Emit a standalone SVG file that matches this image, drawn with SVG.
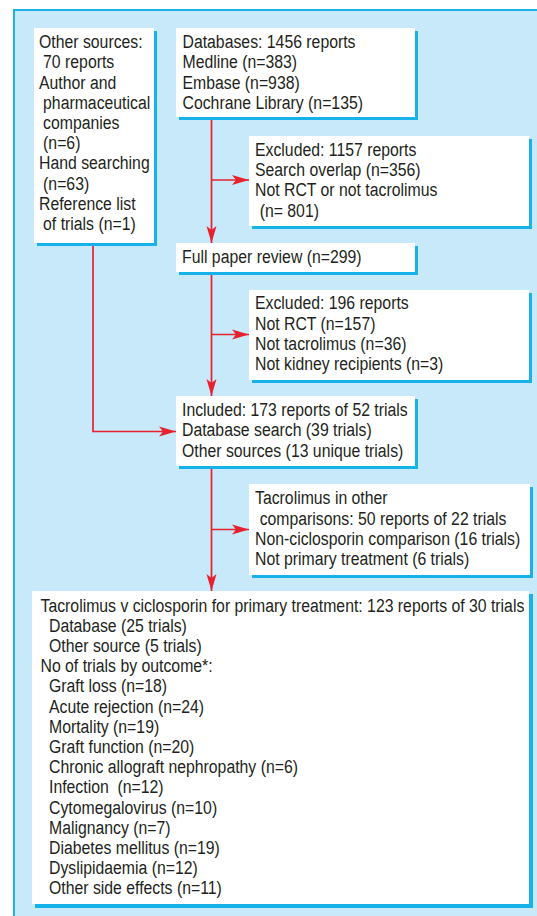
<svg xmlns="http://www.w3.org/2000/svg" width="537" height="916" viewBox="0 0 537 916">
<defs>
<style>
.bg{fill:#c7e9f9;stroke:#1eb1e9;stroke-width:2}
.sh{fill:#17b2ea}
.bx{fill:#ffffff}
text{font-family:"Liberation Sans",Arial,sans-serif;font-size:18.6px;fill:#231f20}
.ln{fill:none;stroke:#e8212e;stroke-width:1.7}
</style>
<marker id="ah" markerUnits="userSpaceOnUse" markerWidth="18" markerHeight="12" refX="17" refY="5.5" orient="auto">
<path d="M0,0.5 L17,5.5 L0,10.5 L4,5.5 Z" fill="#e8212e"/>
</marker>
</defs>
<rect x="0" y="0" width="537" height="916" fill="#ffffff"/>
<rect class="bg" x="14" y="10" width="540" height="920"/>

<g id="connectors">
<path class="ln" d="M211.5,117 V243" marker-end="url(#ah)"/>
<path class="ln" d="M211.5,180 H249" marker-end="url(#ah)"/>
<path class="ln" d="M211.5,272 V396" marker-end="url(#ah)"/>
<path class="ln" d="M211.5,334.5 H249" marker-end="url(#ah)"/>
<path class="ln" d="M93,243 V431.5 H176" marker-end="url(#ah)"/>
<path class="ln" d="M211.5,466 V591" marker-end="url(#ah)"/>
<path class="ln" d="M211.5,529.5 H249" marker-end="url(#ah)"/>
</g>

<g id="other-sources">
<rect class="sh" x="37" y="31" width="120" height="215"/>
<rect class="bx" x="34" y="28" width="120" height="215"/>
<g transform="translate(39,0) scale(0.85,1)">
<text x="0" y="48.3">Other sources:</text>
<text x="4.8" y="68.5">70 reports</text>
<text x="0" y="88.7">Author and</text>
<text x="4.8" y="108.9">pharmaceutical</text>
<text x="4.8" y="129.1">companies</text>
<text x="4.8" y="149.3">(n=6)</text>
<text x="0" y="169.5">Hand searching</text>
<text x="4.8" y="189.7">(n=63)</text>
<text x="0" y="209.9">Reference list</text>
<text x="4.8" y="230.1">of trials (n=1)</text>
</g>
</g>

<g id="databases">
<rect class="sh" x="179" y="31" width="239" height="89"/>
<rect class="bx" x="176" y="28" width="239" height="89"/>
<g transform="translate(182.5,0) scale(0.85,1)">
<text x="0" y="48.3">Databases: 1456 reports</text>
<text x="0" y="68.5">Medline (n=383)</text>
<text x="0" y="88.7">Embase (n=938)</text>
<text x="0" y="108.9">Cochrane Library (n=135)</text>
</g>
</g>

<g id="excluded-1157">
<rect class="sh" x="252" y="139" width="280" height="90"/>
<rect class="bx" x="249" y="136" width="280" height="90"/>
<g transform="translate(255,0) scale(0.85,1)">
<text x="0" y="156">Excluded: 1157 reports</text>
<text x="0" y="176.2">Search overlap (n=356)</text>
<text x="0" y="196.4">Not RCT or not tacrolimus</text>
<text x="5.5" y="216.6">(n= 801)</text>
</g>
</g>

<g id="full-paper">
<rect class="sh" x="179" y="246" width="239" height="29"/>
<rect class="bx" x="176" y="243" width="239" height="29"/>
<g transform="translate(182,0) scale(0.85,1)">
<text x="0" y="262.7">Full paper review (n=299)</text>
</g>
</g>

<g id="excluded-196">
<rect class="sh" x="252" y="293" width="280" height="90"/>
<rect class="bx" x="249" y="290" width="280" height="90"/>
<g transform="translate(255,0) scale(0.85,1)">
<text x="0" y="309.5">Excluded: 196 reports</text>
<text x="0" y="329.7">Not RCT (n=157)</text>
<text x="0" y="349.9">Not tacrolimus (n=36)</text>
<text x="0" y="370.1">Not kidney recipients (n=3)</text>
</g>
</g>

<g id="included">
<rect class="sh" x="179" y="399" width="239" height="70"/>
<rect class="bx" x="176" y="396" width="239" height="70"/>
<g transform="translate(182,0) scale(0.85,1)">
<text x="0" y="416.3">Included: 173 reports of 52 trials</text>
<text x="0" y="436.5">Database search (39 trials)</text>
<text x="0" y="456.7">Other sources (13 unique trials)</text>
</g>
</g>

<g id="tacrolimus-other">
<rect class="sh" x="252" y="487" width="281" height="91"/>
<rect class="bx" x="249" y="484" width="281" height="91"/>
<g transform="translate(255,0) scale(0.85,1)">
<text x="0" y="504.5">Tacrolimus in other</text>
<text x="5.5" y="524.7">comparisons: 50 reports of 22 trials</text>
<text x="0" y="544.9">Non-ciclosporin comparison (16 trials)</text>
<text x="0" y="565.1">Not primary treatment (6 trials)</text>
</g>
</g>

<g id="primary">
<rect class="sh" x="35" y="594" width="498" height="314"/>
<rect class="bx" x="32" y="591" width="497" height="313"/>
<g transform="translate(40.5,0) scale(0.85,1)">
<text x="0" y="611.7">Tacrolimus v ciclosporin for primary treatment: 123 reports of 30 trials</text>
<text x="10" y="631.9">Database (25 trials)</text>
<text x="10" y="652.1">Other source (5 trials)</text>
<text x="0" y="672.3">No of trials by outcome*:</text>
<text x="10" y="692.5">Graft loss (n=18)</text>
<text x="10" y="712.7">Acute rejection (n=24)</text>
<text x="10" y="732.9">Mortality (n=19)</text>
<text x="10" y="753.1">Graft function (n=20)</text>
<text x="10" y="773.3">Chronic allograft nephropathy (n=6)</text>
<text x="10" y="793.5" xml:space="preserve">Infection  (n=12)</text>
<text x="10" y="813.7">Cytomegalovirus (n=10)</text>
<text x="10" y="833.9">Malignancy (n=7)</text>
<text x="10" y="854.1">Diabetes mellitus (n=19)</text>
<text x="10" y="874.3">Dyslipidaemia (n=12)</text>
<text x="10" y="894.5">Other side effects (n=11)</text>
</g>
</g>
</svg>
